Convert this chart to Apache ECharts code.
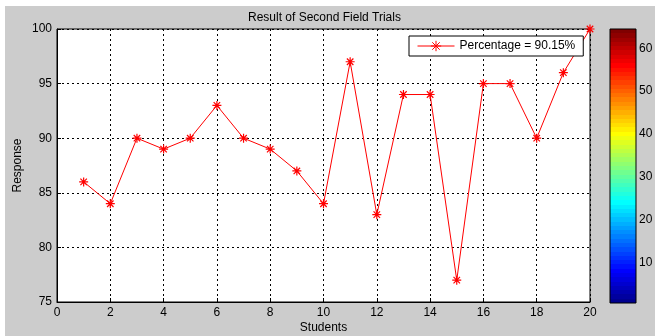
<!DOCTYPE html>
<html><head><meta charset="utf-8">
<script src="https://cdn.jsdelivr.net/npm/echarts@6/dist/echarts.min.js"></script>
<style>html,body{margin:0;padding:0;background:#fff}#c{width:655px;height:336px}</style>
</head><body><div id="c"></div>
<script>
var students = [1,2,3,4,5,6,7,8,9,10,11,12,13,14,15,16,17,18,19,20];
var response = [86,84,90,89,90,93,90,89,87,84,97,83,94,94,77,95,95,90,96,100];
var seriesName = 'Percentage = 90.15%';
var titleText = 'Result of Second Field Trials';
var colorbarTicks = [10,20,30,40,50,60];

function jet(n){
  var m = Math.ceil(n/4), u = [], i;
  for(i=1;i<=m;i++) u.push(i/m);
  for(i=1;i<m;i++) u.push(1);
  for(i=m;i>=1;i--) u.push(i/m);
  var J = []; for(i=0;i<n;i++) J.push([0,0,0]);
  var off = Math.ceil(m/2) - ((n%4)===1?1:0);
  var g=[],r=[],b=[];
  for(i=1;i<=u.length;i++){ g.push(off+i); r.push(off+i+m); b.push(off+i-m); }
  g=g.filter(function(v){return v<=n;}); r=r.filter(function(v){return v<=n;}); b=b.filter(function(v){return v>=1;});
  r.forEach(function(idx,k){J[idx-1][0]=u[k];});
  g.forEach(function(idx,k){J[idx-1][1]=u[k];});
  b.forEach(function(idx,k){J[idx-1][2]=u[u.length-b.length+k];});
  return J.map(function(c){return 'rgb('+Math.round(c[0]*255)+','+Math.round(c[1]*255)+','+Math.round(c[2]*255)+')';});
}
var cmap = jet(64);
var stops = [];
cmap.forEach(function(c,i){ stops.push({offset:i/64,color:c}); stops.push({offset:(i+1)/64,color:c}); });

var star = 'path://M0,-5L0,5M-5,0L5,0M-3.6,-3.6L3.6,3.6M-3.6,3.6L3.6,-3.6';
var font = 'Liberation Sans, Arial, sans-serif';
var chart = echarts.init(document.getElementById('c'), null, {renderer:'canvas'});
chart.setOption({
  animation:false,
  textStyle:{fontFamily:font},
  graphic:[{type:'rect', z:-10, shape:{x:5,y:6,width:650,height:330}, style:{fill:'#cccccc'}}],
  title:{text:titleText, left:243, top:7, textStyle:{fontFamily:font,fontSize:12,fontWeight:'normal',color:'#000'}},
  legend:{data:[seriesName], left:409, top:36, orient:'horizontal', backgroundColor:'#fff', borderColor:'#000', borderWidth:1,
    padding:[4,8,4,8], itemWidth:37, itemHeight:13, itemGap:5,
    lineStyle:{width:1}, itemStyle:{borderWidth:1},
    textStyle:{fontFamily:font,fontSize:12,color:'#000'}},
  grid:[
    {left:57, top:29, right:65, bottom:34, outerBoundsMode:'none', containLabel:false, show:true, backgroundColor:'#fff', borderColor:'#000', borderWidth:1},
    {left:610, top:29, width:26, height:274, outerBoundsMode:'none', containLabel:false, show:true, backgroundColor:'transparent', borderColor:'#000', borderWidth:1, z:5}
  ],
  xAxis:[
    {gridIndex:0, type:'value', min:0, max:20, interval:2, name:'Students', nameLocation:'middle', nameGap:20, nameMoveOverlap:false,
      nameTextStyle:{fontFamily:font,fontSize:12,color:'#000'},
      axisLine:{show:true,lineStyle:{color:'#000'}}, axisTick:{show:true,inside:true,length:4,lineStyle:{color:'#000'}},
      axisLabel:{fontFamily:font,fontSize:12,color:'#000',margin:5},
      splitLine:{show:true,lineStyle:{color:'#000',type:[2,3],width:1}}},
    {gridIndex:1, type:'category', data:['c'], show:false}
  ],
  yAxis:[
    {gridIndex:0, type:'value', min:75, max:100, interval:5, name:'Response', nameLocation:'middle', nameGap:33, nameRotate:90, nameMoveOverlap:false,
      nameTextStyle:{fontFamily:font,fontSize:12,color:'#000'},
      axisLine:{show:true,lineStyle:{color:'#000'}}, axisTick:{show:true,inside:true,length:4,lineStyle:{color:'#000'}},
      axisLabel:{fontFamily:font,fontSize:12,color:'#000',margin:5},
      splitLine:{show:true,lineStyle:{color:'#000',type:[2,3],width:1}}},
    {gridIndex:1, type:'value', min:0.5, max:64.5, position:'right',
      axisLine:{show:false}, splitLine:{show:false},
      axisTick:{show:true,inside:true,length:3,customValues:colorbarTicks,lineStyle:{color:'#000'}},
      axisLabel:{show:true,fontFamily:font,fontSize:12,color:'#000',margin:3,customValues:colorbarTicks}}
  ],
  series:[
    {name:seriesName, type:'line', xAxisIndex:0, yAxisIndex:0, data:students.map(function(s,i){return [s,response[i]];}),
      symbol:star, symbolSize:9, showAllSymbol:true, clip:false,
      lineStyle:{color:'#ff0000',width:1},
      itemStyle:{color:'#ff0000',borderColor:'#ff0000',borderWidth:1.2},
      z:3},
    {name:'colorbar', type:'bar', xAxisIndex:1, yAxisIndex:1, data:[64.5], barWidth:'100%', silent:true,
      itemStyle:{color:new echarts.graphic.LinearGradient(0,1,0,0,stops)}}
  ]
});
</script></body></html>
